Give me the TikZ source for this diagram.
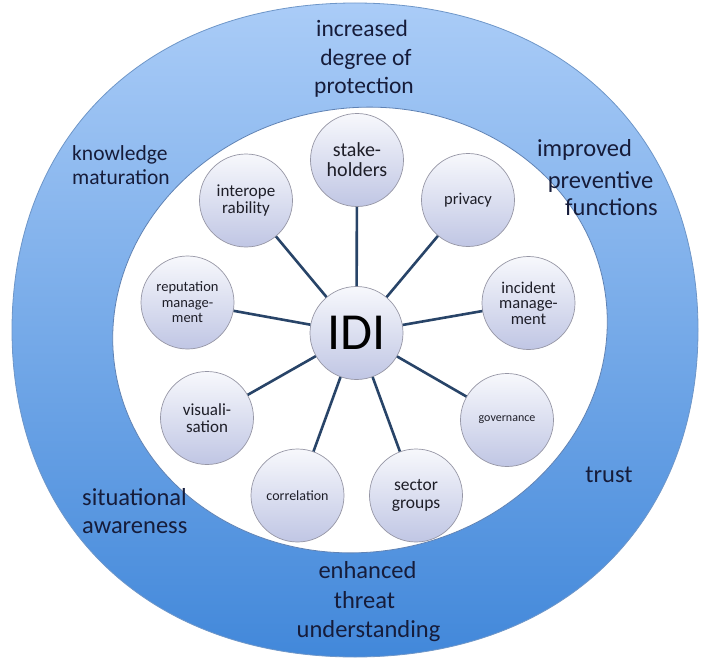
\documentclass[tikz,border=0pt]{standalone}
\usepackage{fontspec}
\setmainfont{Carlito}
\definecolor{ringtop}{RGB}{170,204,247}
\definecolor{ringbot}{RGB}{66,136,218}
\definecolor{ringedge}{RGB}{110,150,200}
\definecolor{inneredge}{RGB}{95,130,180}
\definecolor{bubtop}{RGB}{247,248,252}
\definecolor{bubbot}{RGB}{192,198,228}
\definecolor{bubedge}{RGB}{150,150,165}
\definecolor{connc}{RGB}{40,68,104}
\definecolor{lbl}{RGB}{22,28,58}
\definecolor{bubtext}{RGB}{30,30,40}
\tikzset{
  bub/.style={circle, minimum size=93pt, inner sep=0pt, draw=bubedge, line width=0.7pt,
    top color=bubtop, bottom color=bubbot, text=bubtext, align=center},
  conn/.style={draw=connc, line width=2.6pt},
  lab/.style={text=lbl, inner sep=0pt, anchor=base, font=\fontsize{24.5}{29}\selectfont},
  labw/.style={lab, anchor=base west}
}
\begin{document}
\begin{tikzpicture}[x=1pt,y=-1pt]
\useasboundingbox (0,0) rectangle (701,658);
% outer ring
\path[top color=ringtop, bottom color=ringbot, draw=ringedge, line width=0.8pt]
  (698,330) .. controls (698,526.2) and (560.8,657) .. (355,657)
  .. controls (149.2,657) and (12,526.2) .. (12,330)
  .. controls (12,133.8) and (149.2,3) .. (355,3)
  .. controls (560.8,3) and (698,133.8) .. (698,330) -- cycle;
% inner white area
\path[fill=white, draw=inneredge, line width=0.8pt, rotate around={10:(360,330)}]
  (360,330) ellipse [x radius=248, y radius=222];
% ring labels
\node[lab, font=\fontsize{23.5}{28}\selectfont] (inc1) at (362,37) {increased};
\node[lab, font=\fontsize{23.5}{28}\selectfont] (inc2) at (366,66) {degree of};
\node[lab, font=\fontsize{23.5}{28}\selectfont] (inc3) at (364,94) {protection};
\node[labw, font=\fontsize{21.5}{24}\selectfont] (kno1) at (72,160) {knowledge};
\node[labw, font=\fontsize{21.5}{24}\selectfont] (kno2) at (72,184) {maturation};
\node[lab] (imp1) at (584.5,157) {improved};
\node[lab] (imp2) at (600.5,188) {preventive};
\node[lab] (imp3) at (611.5,215) {functions};
\node[lab] (tru) at (609,482) {trust};
\node[labw] (sit1) at (82,505) {situational};
\node[labw] (sit2) at (82,533) {awareness};
\node[lab] (enh1) at (367.5,578) {enhanced};
\node[lab] (enh2) at (364.5,608) {threat};
\node[lab] (enh3) at (368.5,637) {understanding};
% bubbles
\node[bub, font=\fontsize{52}{58}\selectfont, text=black] (idi) at (356.5,333) {IDI};
\node[bub, font=\fontsize{20}{20}\selectfont] (stake) at (357,160) {stake-\\holders};
\node[bub, font=\fontsize{16.5}{18}\selectfont] (priv) at (468,200) {privacy};
\node[bub, font=\fontsize{16.5}{15.5}\selectfont] (inci) at (528.5,303) {incident\\manage-\\ment};
\node[bub, font=\fontsize{12}{13}\selectfont] (gov) at (507,420) {governance};
\node[bub, font=\fontsize{17.5}{18}\selectfont] (sect) at (416,495.5) {sector\\groups};
\node[bub, font=\fontsize{14}{15}\selectfont] (corr) at (297.5,495.5) {correlation};
\node[bub, font=\fontsize{17}{17}\selectfont] (vis) at (207,418) {visuali-\\sation};
\node[bub, font=\fontsize{14.5}{15.5}\selectfont] (rep) at (187.5,302.5) {reputation\\manage-\\ment};
\node[bub, font=\fontsize{17}{17.5}\selectfont] (intr) at (246,200.5) {interope\\rability};
% connectors
\foreach \n in {stake,priv,inci,gov,sect,corr,vis,rep,intr}
  \draw[conn] (idi) -- (\n);
\end{tikzpicture}
\end{document}
